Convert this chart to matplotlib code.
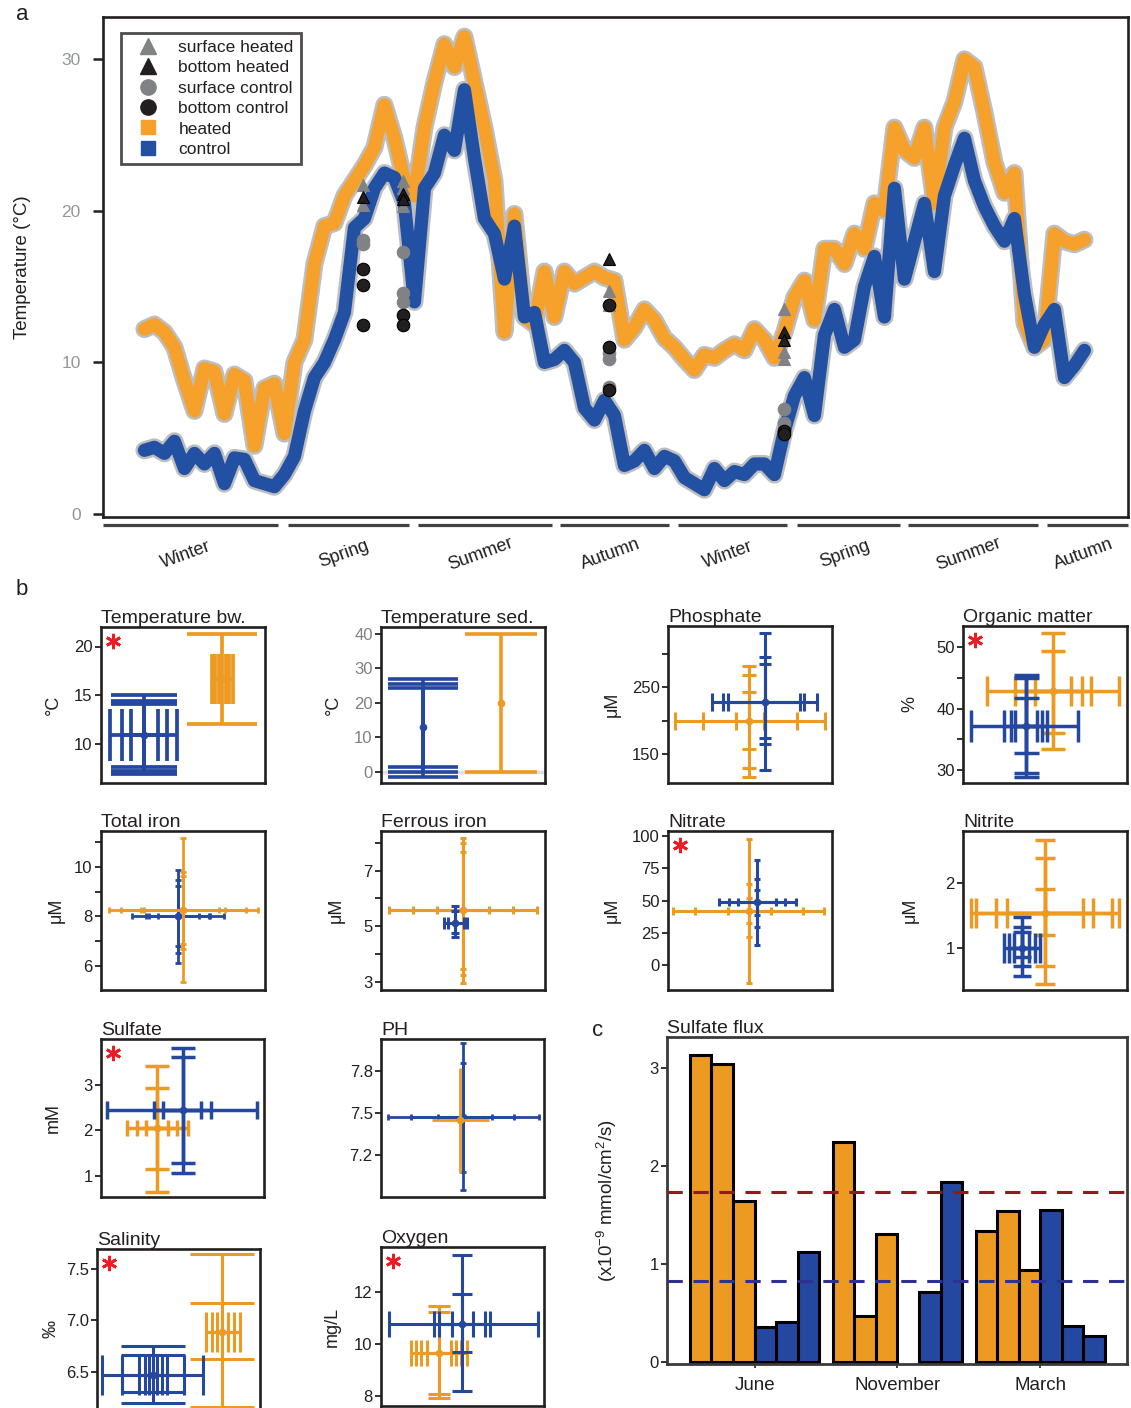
import numpy as np
import matplotlib
matplotlib.use('Agg')
import matplotlib.pyplot as plt
import matplotlib.transforms as mtransforms
from matplotlib.lines import Line2D

plt.rcParams['font.family'] = ['Liberation Sans', 'DejaVu Sans']
plt.rcParams['mathtext.default'] = 'regular'

# ---------------- panel a: temperature loggers ----------------
days = 29 + 7 * np.arange(95)
heated = [12.2, 12.5, 12.0, 11.0, 8.8, 6.8, 9.6, 9.4, 6.6, 9.2, 8.8,
          4.5, 8.3, 8.6, 5.3, 10.0, 11.5, 16.5, 19.0, 19.2, 21.0,
          22.0, 23.0, 24.2, 27.0, 24.8, 22.0, 21.0, 25.5, 28.5, 31.0,
          29.5, 31.5, 28.5, 25.5, 22.0, 12.0, 19.8, 13.0, 12.5, 16.0,
          13.0, 16.0, 15.2, 15.6, 16.0, 15.6, 15.4, 11.5, 12.3, 13.5,
          12.8, 11.6, 11.0, 10.2, 9.5, 10.5, 10.3, 10.8, 11.2, 10.8,
          12.2, 11.5, 10.3, 12.0, 14.3, 15.4, 12.8, 17.5, 17.5, 16.5,
          18.5, 17.5, 20.5, 20.0, 25.5, 24.0, 23.5, 25.5, 20.5, 25.5,
          27.2, 30.0, 29.5, 26.5, 23.2, 21.2, 22.5, 12.6, 11.0, 11.5,
          18.5, 18.0, 17.8, 18.1]
control = [4.2, 4.4, 4.0, 4.8, 3.0, 4.0, 3.3, 4.0, 2.0, 3.7, 3.6,
           2.2, 2.0, 1.8, 2.6, 3.8, 6.8, 9.0, 10.0, 11.5, 13.3,
           18.9, 19.5, 21.5, 22.5, 22.2, 20.5, 14.0, 21.5, 22.5, 25.0,
           24.0, 28.0, 23.5, 19.5, 18.5, 15.5, 19.0, 13.0, 13.3, 10.0,
           10.2, 10.8, 10.0, 7.0, 6.2, 7.5, 6.5, 3.2, 3.5, 4.2,
           3.0, 3.8, 3.5, 2.4, 2.0, 1.6, 3.0, 2.2, 2.8, 2.6,
           3.3, 3.3, 2.6, 5.5, 7.8, 9.0, 6.5, 11.8, 13.5, 11.0,
           11.5, 15.0, 17.0, 13.0, 21.5, 15.5, 18.0, 20.5, 16.0, 21.0,
           23.0, 24.8, 22.0, 20.3, 19.0, 18.0, 19.5, 14.5, 11.0, 12.5,
           13.5, 9.0, 9.8, 10.8]

sample_days = [182, 210, 354, 477]
surface_heated = [[21.7, 20.4], [22.0, 21.5, 20.3], [14.7, 13.8], [13.5, 10.7, 10.2]]
bottom_heated = [[20.9], [21.1, 20.8], [16.8], [12.0, 11.5]]
surface_control = [[18.1, 17.8], [17.3, 14.6, 14.0], [10.6, 10.2, 8.4], [6.9, 6.0]]
bottom_control = [[16.2, 15.1, 12.5], [13.1, 12.5], [13.8, 11.0, 8.2], [5.5, 5.3]]

seasons = ['Winter', 'Spring', 'Summer', 'Autumn', 'Winter', 'Spring', 'Summer', 'Autumn']
season_start = [0, 129.5, 220.5, 320, 402.5, 486, 563.5, 661]
season_end = [122.5, 214, 314, 396, 479, 558, 654.5, 717.5]

# ---------------- panel b: environmental variables ----------------
temp_bw_control = dict(x=0.263, y=10.9, ybars=[(6.9, 15.0), (7.2, 14.4), (7.6, 14.1)],
                       xbars=[(0.055, 0.464), (0.127, 0.405), (0.182, 0.35)])
temp_bw_heated = dict(x=0.74, y=16.7, ybars=[(12.1, 21.3)],
                      xbars=[(0.678, 0.803), (0.698, 0.782), (0.72, 0.76)])
temp_sed_control = dict(x=0.258, y=13.0, ybars=[(-1.5, 27.0), (0.0, 25.6), (1.5, 24.3)], xbars=[])
temp_sed_heated = dict(x=0.731, y=20.0, ybars=[(0.0, 40.0)], xbars=[])
phosphate_control = dict(x=0.592, y=228, ybars=[(126, 331), (165, 295), (174, 284)],
                         xbars=[(0.268, 0.911), (0.335, 0.83), (0.368, 0.804)])
phosphate_heated = dict(x=0.496, y=199, ybars=[(116, 281), (129, 268), (157, 242)],
                        xbars=[(0.045, 0.955), (0.212, 0.786), (0.417, 0.585)])
om_control = dict(x=0.382, y=37.15, ybars=[(28.9, 45.4), (29.5, 44.9), (32.8, 41.7)],
                  xbars=[(0.049, 0.704), (0.253, 0.511), (0.293, 0.482), (0.316, 0.449)])
om_heated = dict(x=0.549, y=42.8, ybars=[(33.4, 52.2), (36.1, 49.4)],
                 xbars=[(0.149, 0.949), (0.316, 0.782), (0.382, 0.727), (0.438, 0.66)])
iron_control = dict(x=0.47, y=8.0, ybars=[(6.14, 9.86), (6.53, 9.48), (6.82, 9.24)],
                    xbars=[(0.19, 0.751), (0.274, 0.667), (0.295, 0.656), (0.346, 0.595)])
iron_heated = dict(x=0.499, y=8.27, ybars=[(5.36, 11.16), (6.68, 9.81), (6.9, 9.64)],
                   xbars=[(0.05, 0.956), (0.12, 0.882), (0.241, 0.755), (0.263, 0.722)])
ferrous_control = dict(x=0.454, y=5.13, ybars=[(4.6, 5.71), (4.75, 5.55)],
                       xbars=[(0.385, 0.526), (0.407, 0.504)])
ferrous_heated = dict(x=0.498, y=5.58, ybars=[(2.96, 8.17), (3.24, 7.98), (3.45, 7.69)],
                      xbars=[(0.048, 0.95), (0.193, 0.802), (0.341, 0.657)])
nitrate_control = dict(x=0.542, y=48.6, ybars=[(15.5, 81.4), (29.7, 66.7), (38.8, 58.2)],
                       xbars=[(0.312, 0.779), (0.373, 0.711), (0.429, 0.659)])
nitrate_heated = dict(x=0.492, y=41.9, ybars=[(-13.7, 97.6), (22.0, 62.5), (32.3, 52.2)],
                      xbars=[(0.03, 0.953), (0.165, 0.824), (0.363, 0.625)])
nitrite_control = dict(x=0.36, y=1.0, ybars=[(0.56, 1.48), (0.72, 1.32), (0.86, 1.24)],
                       xbars=[(0.253, 0.471), (0.282, 0.438), (0.311, 0.404)])
nitrite_heated = dict(x=0.5, y=1.54, ybars=[(0.44, 2.67), (0.71, 2.39), (1.19, 1.91)],
                      xbars=[(0.049, 0.949), (0.082, 0.909), (0.204, 0.793), (0.271, 0.731)])
sulfate_control = dict(x=0.502, y=2.45, ybars=[(1.05, 3.82), (1.27, 3.62)],
                       xbars=[(0.039, 0.954), (0.328, 0.677), (0.382, 0.616)])
sulfate_heated = dict(x=0.345, y=2.06, ybars=[(0.64, 3.43), (1.14, 2.93)],
                      xbars=[(0.157, 0.531), (0.218, 0.469), (0.279, 0.41)])
ph_control = dict(x=0.501, y=7.47, ybars=[(6.95, 8.0), (7.08, 7.86)],
                  xbars=[(0.044, 0.967), (0.186, 0.814), (0.35, 0.683)])
ph_heated = dict(x=0.486, y=7.45, ybars=[(7.07, 7.82)], xbars=[(0.311, 0.661)])
salinity_control = dict(x=0.342, y=6.47, ybars=[(6.2, 6.75), (6.3, 6.66)],
                        xbars=[(0.028, 0.649), (0.152, 0.535), (0.255, 0.429), (0.292, 0.4), (0.32, 0.368)])
salinity_heated = dict(x=0.768, y=6.89, ybars=[(6.16, 7.64), (6.62, 7.17)],
                       xbars=[(0.671, 0.877), (0.703, 0.84), (0.736, 0.805)])
oxygen_control = dict(x=0.499, y=10.77, ybars=[(8.18, 13.4), (9.68, 11.9)],
                      xbars=[(0.048, 0.961), (0.325, 0.669), (0.357, 0.641), (0.434, 0.565)])
oxygen_heated = dict(x=0.357, y=9.65, ybars=[(7.9, 11.44), (8.08, 11.22)],
                     xbars=[(0.183, 0.525), (0.216, 0.492), (0.248, 0.46), (0.281, 0.427)])

# ---------------- panel c: sulfate flux ----------------
months = ['June', 'November', 'March']
flux_heated = [[3.14, 3.04, 1.64], [2.25, 0.47, 1.31], [1.34, 1.54, 0.94]]
flux_control = [[0.36, 0.41, 1.12], [np.nan, 0.72, 1.84], [1.55, 0.37, 0.27]]

# ---------------- styling ----------------
ORANGE_A, BLUE_A, GRAY_A = '#f6a12c', '#2250a2', '#bcbec0'
ORANGE, BLUE = '#ec9a22', '#2447a0'
DARK = '#231f20'
W, H = 1131, 1408


def box(l, t, r, b):
    return [l / W, 1 - b / H, (r - l) / W, (b - t) / H]


fig = plt.figure(figsize=(W / 100, H / 100), dpi=100)

# panel a
ax = fig.add_axes(box(103, 17, 1128, 517))
for vals in (heated, control):
    ax.plot(days, vals, color=GRAY_A, lw=13, solid_joinstyle='round', solid_capstyle='round', zorder=1)
ax.plot(days, heated, color=ORANGE_A, lw=9.5, solid_joinstyle='round', solid_capstyle='round', zorder=2)
ax.plot(days, control, color=BLUE_A, lw=9.5, solid_joinstyle='round', solid_capstyle='round', zorder=3)

marker_styles = [
    (surface_heated, '^', '#808285', 'surface heated'),
    (bottom_heated, '^', DARK, 'bottom heated'),
    (surface_control, 'o', '#808285', 'surface control'),
    (bottom_control, 'o', DARK, 'bottom control'),
]
for groups, mk, col, _ in marker_styles:
    for d, vals in zip(sample_days, groups):
        ax.plot([d] * len(vals), vals, mk, color=col, ms=9, mec='black' if col == DARK else col,
                mew=0.8, ls='none', zorder=5)

ax.set_xlim(0, 717.5)
ax.set_ylim(-0.2, 32.8)
ax.set_xticks([])
ax.set_yticks([0, 10, 20, 30])
ax.tick_params(axis='y', length=7, width=1.8, color=DARK, labelcolor='#939598',
               labelsize=12.5, pad=9)
for s in ax.spines.values():
    s.set_linewidth(1.9)
    s.set_color(DARK)
ax.set_ylabel('Temperature (°C)', fontsize=13.5, color=DARK)
ax.yaxis.set_label_coords(-0.07, 0.5)

trans = mtransforms.blended_transform_factory(ax.transData, ax.transAxes)
for name, s, e in zip(seasons, season_start, season_end):
    ax.plot([s, e], [-0.016, -0.016], transform=trans, clip_on=False, color='#414042',
            lw=2.3, solid_capstyle='butt')
    ax.text((s + e) / 2 - 3, -0.075, name, transform=trans, rotation=20, ha='center',
            va='center', fontsize=13, color=DARK)

handles = [Line2D([], [], marker=mk, color=col, ls='none', ms=11) for _, mk, col, _ in marker_styles]
labels = [lab for *_, lab in marker_styles]
handles += [Line2D([], [], marker='s', color=ORANGE_A, ls='none', ms=10),
            Line2D([], [], marker='s', color=BLUE_A, ls='none', ms=10)]
labels += ['heated', 'control']
leg = ax.legend(handles, labels, loc='upper left', bbox_to_anchor=(0.0176, 0.968),
                borderaxespad=0, fontsize=12.5, frameon=True, fancybox=False,
                labelspacing=0.3, handletextpad=0.6, borderpad=0.4, handlelength=2.3)
leg.get_frame().set_edgecolor(DARK)
leg.get_frame().set_linewidth(2)
for t in leg.get_texts():
    t.set_color(DARK)

fig.text(22 / W, 1 - 14 / H, 'a', fontsize=16, va='center', ha='center', color=DARK)
fig.text(22 / W, 1 - 590 / H, 'b', fontsize=16, va='center', ha='center', color=DARK)
fig.text(598 / W, 1 - 1030 / H, 'c', fontsize=16, va='center', ha='center', color=DARK)


# panel b
def cross(ax, d, color, ycap, xcap, lw):
    for lo, hi in d['ybars']:
        ax.errorbar(d['x'], d['y'], yerr=[[d['y'] - lo], [hi - d['y']]], fmt='none',
                    ecolor=color, elinewidth=lw, capsize=ycap, capthick=lw)
    for lo, hi in d['xbars']:
        ax.errorbar(d['x'], d['y'], xerr=[[d['x'] - lo], [hi - d['x']]], fmt='none',
                    ecolor=color, elinewidth=lw, capsize=xcap, capthick=lw)
    ax.plot(d['x'], d['y'], 'o', color=color, ms=4.5)


# title, unit, rect, ylim, ticks, ticklabels, heated, control, caps (heated y/x, control y/x), lw, star, control_first, label_x
panels = [
    ('Temperature bw.', '°C', (101, 627, 265, 783), (6, 22), [10, 15, 20], None,
     temp_bw_heated, temp_bw_control, (25, 18, 24, 19), 2.7, True, False, -0.24),
    ('Temperature sed.', '°C', (381, 627, 545, 783), (-3.2, 42), [0, 10, 20, 30, 40], None,
     temp_sed_heated, temp_sed_control, (26, 0, 25, 0), 2.6, False, False, -0.24),
    ('Phosphate', 'μM', (668, 626, 832, 783), (107, 341), [150, 200, 250, 300], ['150', '', '250', ''],
     phosphate_heated, phosphate_control, (5, 6.5, 4.5, 6.5), 2.2, False, False, -0.29),
    ('Organic matter', '%', (963, 626, 1127, 783), (27.9, 53.4), [30, 35, 40, 45, 50], ['30', '', '40', '', '50'],
     om_heated, om_control, (8.6, 11, 9, 11.5), 2.5, True, False, -0.27),
    ('Total iron', 'μM', (101, 831, 265, 990), (5.03, 11.45), [6, 7, 8, 9, 10, 11], ['6', '', '8', '', '10', ''],
     iron_heated, iron_control, (2, 2, 2, 2), 2.0, False, True, -0.22),
    ('Ferrous iron', 'μM', (381, 831, 545, 990), (2.7, 8.43), [3, 4, 5, 6, 7, 8], ['3', '', '5', '', '7', ''],
     ferrous_heated, ferrous_control, (2.2, 3, 3, 4.3), 2.2, False, False, -0.22),
    ('Nitrate', 'μM', (668, 831, 832, 990), (-19.4, 103.9), [0, 25, 50, 75, 100], None,
     nitrate_heated, nitrate_control, (2.5, 3, 2.5, 3), 2.2, True, False, -0.29),
    ('Nitrite', 'μM', (963, 831, 1127, 990), (0.34, 2.81), [1, 2], None,
     nitrite_heated, nitrite_control, (7.2, 11, 6.8, 11), 2.5, False, False, -0.27),
    ('Sulfate', 'mM', (101, 1039, 264, 1197), (0.53, 4.02), [1, 2, 3], None,
     sulfate_heated, sulfate_control, (8.4, 6.1, 8.6, 6.5), 2.5, True, False, -0.24),
    ('PH', '', (381, 1039, 544, 1197), (6.9, 8.03), [7.2, 7.5, 7.8], None,
     ph_heated, ph_control, (0, 0, 2, 2), 2.0, False, True, -0.24),
    ('Salinity', '‰', (97, 1249, 260, 1410), (6.13, 7.69), [6.5, 7.0, 7.5], ['6.5', '7.0', '7.5'],
     salinity_heated, salinity_control, (23, 14.4, 23, 14.4), 2.2, True, False, -0.23),
    ('Oxygen', 'mg/L', (381, 1247, 544, 1406), (7.6, 13.72), [8, 10, 12], None,
     oxygen_heated, oxygen_control, (7.6, 9.4, 7.2, 9.4), 2.2, True, False, -0.245),
]

for (title, unit, rect, ylim, ticks, ticklabels, dh, dc, caps, lw, star,
     control_first, label_x) in panels:
    bx = fig.add_axes(box(*rect))
    order = [(dc, BLUE, caps[2], caps[3]), (dh, ORANGE, caps[0], caps[1])]
    if not control_first:
        order = order[::-1]
    for d, col, yc, xc in order:
        cross(bx, d, col, yc, xc, lw)
    if title == 'Temperature sed.':
        bx.axhline(0, color='#e0e0e0', lw=2.5, zorder=0)
    bx.set_xlim(0, 1)
    bx.set_ylim(*ylim)
    bx.set_xticks([])
    bx.set_yticks(ticks)
    if ticklabels is not None:
        bx.set_yticklabels(ticklabels)
    tick_col = '#808080' if title == 'Temperature sed.' else DARK
    bx.tick_params(axis='y', length=4, width=1.3, color=DARK, labelcolor=tick_col,
                   labelsize=12, pad=2)
    for s in bx.spines.values():
        s.set_linewidth(1.9)
        s.set_color(DARK)
    bx.set_title(title, loc='left', fontsize=14, pad=3, color=DARK)
    if unit:
        bx.set_ylabel(unit, fontsize=13, color=DARK)
        bx.yaxis.set_label_coords(label_x, 0.5)
    if star:
        bx.plot(0.075, 0.91, marker=(6, 2, 0), color='#ed1c24', ms=11, mew=2,
                transform=bx.transAxes, clip_on=False)

# panel c
cx = fig.add_axes(box(667, 1037, 1127, 1364))
pitch = 6.62
for g in range(len(months)):
    x0 = g * pitch
    cx.bar(x0 + np.arange(3), flux_heated[g], width=1, color=ORANGE, edgecolor='black', lw=2.2, zorder=2)
    ctrl = np.array(flux_control[g])
    xs = x0 + 3 + np.arange(3)
    ok = ~np.isnan(ctrl)
    cx.bar(xs[ok], ctrl[ok], width=1, color=BLUE, edgecolor='black', lw=2.2, zorder=2)

mean_heated = np.nanmean(flux_heated)
mean_control = np.nanmean(flux_control)
cx.axhline(mean_heated, color='#8e1b1e', lw=2.2, ls=(0, (5, 3.5)), zorder=4)
cx.axhline(mean_control, color='#2e3192', lw=2.2, ls=(0, (5, 3.5)), zorder=4)

cx.set_xlim(-1.56, 2 * pitch + 5.5 + 1.02)
cx.set_ylim(-0.02, 3.32)
cx.set_xticks([g * pitch + 2.5 for g in range(len(months))])
cx.set_xticklabels(months)
cx.set_yticks([0, 1, 2, 3])
cx.tick_params(axis='x', length=3, width=1.2, color=DARK, labelsize=13.5, labelcolor=DARK, pad=6)
cx.tick_params(axis='y', length=4, width=1.3, color=DARK, labelsize=12, labelcolor=DARK, pad=2)
for s in cx.spines.values():
    s.set_linewidth(2.0)
    s.set_color('#3a3a3a')
cx.set_title('Sulfate flux', loc='left', fontsize=14, pad=3, color=DARK)
cx.set_ylabel('(x10$^{-9}$ mmol/cm$^{2}$/s)', fontsize=13.5, color=DARK)
cx.yaxis.set_label_coords(-0.105, 0.5)

fig.savefig('out.png', dpi=100)
